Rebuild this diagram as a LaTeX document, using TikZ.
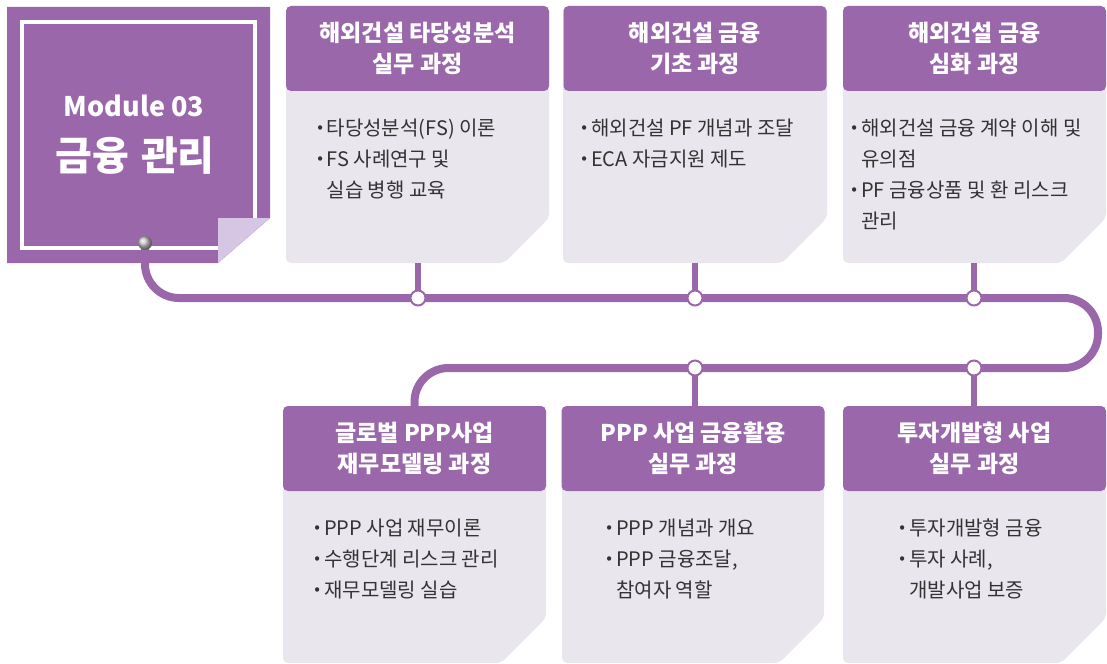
\documentclass[tikz,border=0pt]{standalone}
\usepackage{fontspec}
\setmainfont{Noto Sans CJK KR}
\definecolor{modpurple}{HTML}{9A67AB}
\definecolor{boxgray}{HTML}{E9E6EE}
\definecolor{foldlilac}{HTML}{D6C5E3}
\definecolor{bodytext}{HTML}{333333}
\newcommand{\bul}{\makebox[13bp][c]{\bfseries ·}}
\newcommand{\ind}{\hspace*{13bp}}
\begin{document}
\begin{tikzpicture}[x=1bp, y=-1bp,
  header/.style={fill=modpurple, rounded corners=5bp, minimum width=263bp, minimum height=85bp, inner sep=0pt, text=white, align=center, font=\fontsize{23bp}{31bp}\selectfont\bfseries},
  body/.style={fill=boxgray, rounded corners=5bp},
  list/.style={anchor=north west, inner sep=0pt, align=left, text=bodytext, font=\fontsize{20bp}{31bp}\selectfont},
  track/.style={draw=modpurple, line width=8bp, rounded corners=34bp},
  stub/.style={draw=modpurple, line width=6bp},
  station/.style={circle, draw=modpurple, fill=white, line width=2bp, minimum size=15bp, inner sep=0pt}]
\useasboundingbox (0,0) rectangle (1107,664);
\fill[modpurple] (7,7) -- (270,7) -- (270,218) -- (218,263) -- (7,263) -- cycle;
\draw[white, line width=4bp] (218,248) -- (22,248) -- (22,22) -- (255,22) -- (255,218);
\fill[foldlilac] (218,218) -- (270,218) -- (218,263) -- cycle;
\node[text=white, font=\fontsize{27bp}{30bp}\selectfont\bfseries] (modnum) at (134,106) {Module 03};
\node[text=white, font=\fontsize{40bp}{42bp}\selectfont\bfseries] (modname) at (135,156) {금융\hspace{0.3em}관리};
\path[body] (286,6) -- (549,6) -- (549,218) -- (504,263) -- (286,263) -- cycle;
\node[header] (h1) at (417.5,48.5) {해외건설 타당성분석\\실무 과정};
\node[list] (l1) at (313.5,119) {\bul 타당성분석(FS) 이론\\\bul FS 사례연구 및\\\ind 실습 병행 교육};
\coordinate (b1) at (418,263);
\path[body] (563,6) -- (827,6) -- (827,218) -- (782,263) -- (563,263) -- cycle;
\node[header] (h2) at (695,48.5) {해외건설 금융\\기초 과정};
\node[list] (l2) at (578,119) {\bul 해외건설 PF 개념과 조달\\\bul ECA 자금지원 제도};
\coordinate (b2) at (695,263);
\path[body] (843,6) -- (1106,6) -- (1106,218) -- (1061,263) -- (843,263) -- cycle;
\node[header] (h3) at (974.5,48.5) {해외건설 금융\\심화 과정};
\node[list] (l3) at (848,119) {\bul 해외건설 금융 계약 이해 및\\\ind 유의점\\\bul PF 금융상품 및 환 리스크\\\ind 관리};
\coordinate (b3) at (974,263);
\path[body] (283,406) -- (546,406) -- (546,618) -- (501,663) -- (283,663) -- cycle;
\node[header] (h4) at (414.5,448.5) {글로벌 PPP사업\\재무모델링 과정};
\node[list] (l4) at (311,519) {\bul PPP 사업 재무이론\\\bul 수행단계 리스크 관리\\\bul 재무모델링 실습};
\path[body] (562,406) -- (824,406) -- (824,618) -- (779,663) -- (562,663) -- cycle;
\node[header] (h5) at (693,448.5) {PPP 사업 금융활용\\실무 과정};
\node[list] (l5) at (603,519) {\bul PPP 개념과 개요\\\bul PPP 금융조달,\\\ind 참여자 역할};
\path[body] (843,406) -- (1106,406) -- (1106,618) -- (1061,663) -- (843,663) -- cycle;
\node[header] (h6) at (974.5,448.5) {투자개발형 사업\\실무 과정};
\node[list] (l6) at (896,519) {\bul 투자개발형 금융\\\bul 투자 사례,\\\ind 개발사업 보증};
\coordinate (pin) at (145,243);
\coordinate (r1) at (1098,298);
\coordinate (r2) at (1098,368);
\coordinate (st1) at (418,298);
\coordinate (st2) at (695,298);
\coordinate (st3) at (974,298);
\coordinate (st5) at (695,368);
\coordinate (st6) at (974,368);
\draw[track] (pin) -- (pin |- st1) -- (r1) -- (r2) -- (h4.north |- r2) -- (h4.north);
\draw[stub] (b1) -- (st1);
\draw[stub] (b2) -- (st2);
\draw[stub] (b3) -- (st3);
\draw[stub] (st5) -- (st5 |- h5.north);
\draw[stub] (st6) -- (st6 |- h6.north);
\node[station] at (st1) {};
\node[station] at (st2) {};
\node[station] at (st3) {};
\node[station] at (st5) {};
\node[station] at (st6) {};
\shade[ball color=gray!45] (pin) circle (7bp);
\end{tikzpicture}
\end{document}
